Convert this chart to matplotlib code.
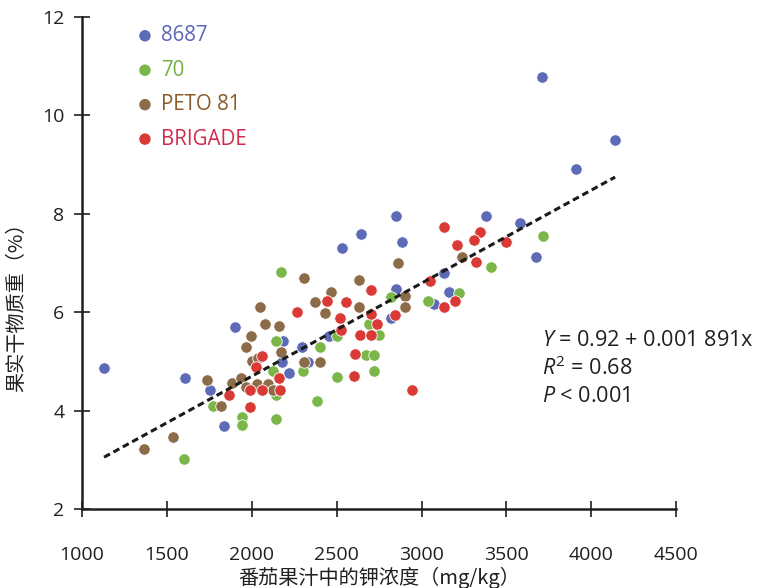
import matplotlib
matplotlib.use("Agg")
import matplotlib.pyplot as plt
import numpy as np

plt.rcParams['font.family'] = ['Open Sans', 'Noto Sans CJK SC', 'DejaVu Sans']
plt.rcParams['mathtext.fontset'] = 'custom'
plt.rcParams['mathtext.it'] = 'Open Sans:italic'
plt.rcParams['mathtext.rm'] = 'Open Sans'

# ---- data ----
x_8687 = [1130, 1607, 1901, 1754, 1837, 2184, 2178, 2219, 2296, 2331, 2455, 2533, 2641,
          2852, 2883, 3377, 3577, 3675, 3130, 3164, 3073, 2852, 2819, 3711, 4140, 3908]
y_8687 = [4.87, 4.67, 5.70, 4.42, 3.69, 5.42, 5.00, 4.77, 5.30, 5.00, 5.52, 7.31, 7.60,
          7.95, 7.42, 7.95, 7.82, 7.13, 6.79, 6.41, 6.17, 6.47, 5.88, 10.78, 9.51, 8.91]

x_70 = [2174, 2143, 2399, 2127, 2303, 2503, 2503, 1770, 1944, 1944, 1603, 2143, 2382, 2143,
        2819, 2688, 2750, 2672, 2721, 2719, 3040, 3223, 3408, 3717]
y_70 = [6.81, 5.42, 5.30, 4.80, 4.80, 5.52, 4.69, 4.10, 3.88, 3.72, 3.03, 3.83, 4.20, 4.33,
        6.31, 5.77, 5.53, 5.13, 5.13, 4.80, 6.24, 6.40, 6.93, 7.55]

x_peto = [2305, 2468, 2370, 2432, 2047, 2080, 2158, 1997, 1964, 1999, 2035, 2174, 2307, 2399,
          1735, 1368, 1539, 1817, 1882, 1935, 1964, 2033, 2097, 2123, 2864, 2629, 2629, 2901,
          2901, 3241]
y_peto = [6.70, 6.41, 6.22, 5.99, 6.11, 5.76, 5.72, 5.52, 5.30, 5.02, 5.08, 5.19, 5.00, 5.00,
          4.62, 3.23, 3.46, 4.10, 4.56, 4.66, 4.49, 4.54, 4.54, 4.43, 7.00, 6.65, 6.11, 6.33,
          6.11, 7.13]

x_brig = [2266, 2441, 2519, 2060, 2027, 2162, 2166, 2058, 1992, 1866, 1990, 2554, 2525, 3130,
          3342, 3307, 3211, 3499, 3322, 3048, 2703, 3197, 3130, 2703, 2738, 2842, 2636, 2703,
          2607, 2603, 2944]
y_brig = [6.00, 6.23, 5.88, 5.11, 4.89, 4.67, 4.43, 4.42, 4.42, 4.32, 4.08, 6.22, 5.65, 7.74,
          7.63, 7.48, 7.37, 7.42, 7.03, 6.63, 6.46, 6.24, 6.11, 5.96, 5.76, 5.95, 5.54, 5.54,
          5.15, 4.70, 4.42]

series_names = ['8687', '70', 'PETO 81', 'BRIGADE']
intercept = 0.92
slope = 0.001891
x_ticks = [1000, 1500, 2000, 2500, 3000, 3500, 4000, 4500]
y_ticks = [2, 4, 6, 8, 10, 12]

# ---- style ----
dot_colors = ['#5d6bb7', '#7ab648', '#8c6c48', '#d93a36']
text_colors = ['#5b66b8', '#72b043', '#8b5a2b', '#d42a4a']
ink = '#231f20'
cjk = ['Noto Sans CJK SC', 'DejaVu Sans']

fig = plt.figure(figsize=(7.59, 5.88), dpi=100)
ax = fig.add_axes([0.108, 0.134, 0.783, 0.837])

xs = [x_8687, x_70, x_peto, x_brig]
ys = [y_8687, y_70, y_peto, y_brig]
for i in range(4):
    ax.scatter(xs[i], ys[i], s=68, color=dot_colors[i], edgecolors='white',
               linewidths=0.6, zorder=3)

allx = np.concatenate([np.array(v) for v in xs])
lx = np.array([allx.min(), allx.max()])
ax.plot(lx, intercept + slope * lx, color='#1a1a1a', lw=2.2, ls=(0, (2.2, 1.3)), zorder=4)

ax.set_xlim(1000, 4500)
ax.set_ylim(2, 12)
ax.set_xticks(x_ticks)
ax.set_yticks(y_ticks)
for s in ['top', 'right']:
    ax.spines[s].set_visible(False)
for s in ['left', 'bottom']:
    ax.spines[s].set_linewidth(1.8)
    ax.spines[s].set_color(ink)
ax.tick_params(axis='x', direction='inout', length=11, width=1.2, pad=21,
               labelsize=14, colors=ink)
ax.tick_params(axis='y', direction='inout', length=11, width=1.2, pad=7,
               labelsize=14, colors=ink)

ax.set_xlabel('番茄果汁中的钾浓度（mg/kg）', fontsize=14.5, family=cjk, color=ink)
ax.xaxis.set_label_coords(0.5, -0.116)
ax.set_ylabel('果实干物质重（%）', fontsize=14.5, family=cjk, color=ink)
ax.yaxis.set_label_coords(-0.092, 0.42)

# legend (custom)
for i, name in enumerate(series_names):
    yy = 0.962 - i * 0.07
    ax.scatter([0.106], [yy], transform=ax.transAxes, s=68, color=dot_colors[i],
               edgecolors='none', clip_on=False, zorder=5)
    ax.text(0.133, yy, name, transform=ax.transAxes, fontsize=14.8,
            color=text_colors[i], va='center', ha='left')

# equation text
ax.text(0.774, 0.342, r'$\mathit{Y}$ = 0.92 + 0.001 891x', transform=ax.transAxes,
        fontsize=15.6, va='center', ha='left', color=ink)
ax.text(0.774, 0.287, r'$\mathit{R}^{2}$ = 0.68', transform=ax.transAxes,
        fontsize=15.6, va='center', ha='left', color=ink)
ax.text(0.774, 0.230, r'$\mathit{P}$ < 0.001', transform=ax.transAxes,
        fontsize=15.6, va='center', ha='left', color=ink)

fig.savefig('out.png', dpi=100)
